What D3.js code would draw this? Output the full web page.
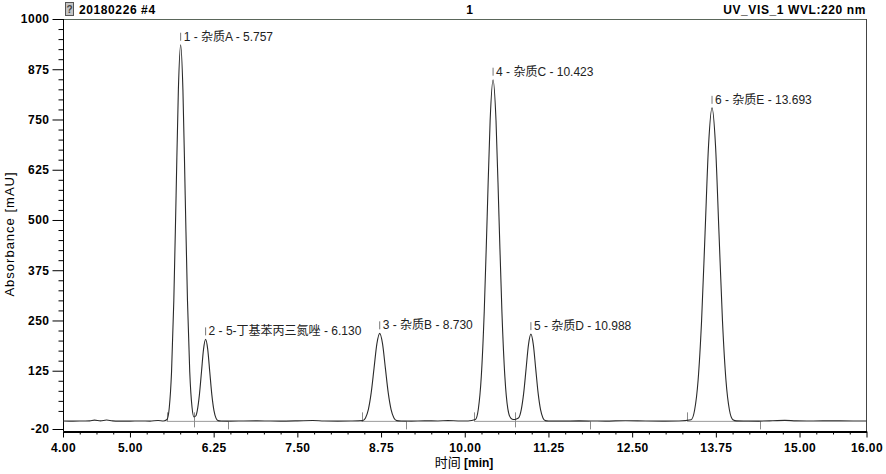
<!DOCTYPE html>
<html><head><meta charset="utf-8">
<script src="https://cdn.jsdelivr.net/npm/d3@7/dist/d3.min.js"></script>
<style>body{margin:0;background:#fff}svg{display:block}</style>
</head><body><svg id="c" width="886" height="474"></svg>
<script>
// ---- data ----
const traceTime = [4.00,4.15,4.30,4.40,4.47,4.56,4.65,4.74,4.85,5.00,5.15,5.30,5.42,5.50,
  5.553,5.587,5.621,5.655,5.689,5.723,5.757,5.791,5.825,5.859,5.893,5.927,5.955,5.985,
  6.006,6.037,6.068,6.099,6.130,6.161,6.192,6.223,6.254,6.285,6.316,6.36,
  6.50,6.70,6.90,7.10,7.30,7.50,7.73,7.90,8.10,8.30,
  8.475,8.5175,8.56,8.6025,8.645,8.6875,8.73,8.7725,8.815,8.8575,8.90,8.9425,8.985,9.05,
  9.20,9.40,9.60,9.75,9.90,10.05,
  10.159,10.203,10.247,10.291,10.335,10.379,10.423,10.467,10.511,10.555,10.599,10.643,10.687,10.73,
  10.772,10.808,10.844,10.88,10.916,10.952,10.988,11.024,11.06,11.096,11.132,11.168,11.204,11.25,
  11.45,11.70,11.90,12.10,12.40,12.70,13.00,13.20,
  13.381,13.433,13.485,13.537,13.589,13.641,13.693,13.745,13.797,13.849,13.901,13.953,14.005,14.06,
  14.20,14.40,14.60,14.78,14.95,15.20,15.50,15.80,16.00];
const traceAbs = [0,-0.5,0,0.3,2.0,0.2,2.3,0.3,-0.3,-0.5,0,-0.3,1.2,0,
  3.5,32.8,121.7,299.5,561.6,823.7,936,823.7,561.6,299.5,122,34,10,13,
  26.4,65,121.8,178.6,203,178.6,121.8,65,26.4,7.1,0.8,0,
  -0.3,0,0.2,-0.2,-0.3,0.2,1.2,0,-0.3,0,
  0.9,7.6,28.3,69.8,130.8,191.8,218,191.8,130.8,69.8,28.3,7.6,0.9,0,
  -0.3,0.2,0,0.8,0,-0.2,
  3.4,29.7,110.4,271.7,509.4,747.1,849,747.1,509.4,271.7,110.4,30.5,7,3.5,
  5,8.5,28.1,69.1,129.6,190,216,190,129.6,69.1,28.1,7.6,0.9,0,
  -0.2,0.2,0,-0.3,0.6,0,-0.3,0,
  3.1,27.3,101.3,249.3,467.4,685.5,779,685.5,467.4,249.3,101.3,27.3,3.1,0.3,
  0,-0.3,0.5,1.5,0.3,0,0.3,0,0];

const peakNumber = [1,2,3,4,5,6];
const peakName = ["杂质A","5-丁基苯丙三氮唑","杂质B","杂质C","杂质D","杂质E"];
const peakTime = [5.757,6.130,8.730,10.423,10.988,13.693];
const peakApex = [936,203,218,849,216,779];

const boundaryTime = [5.548,5.96,6.467,8.458,9.13,10.142,10.746,11.866,13.324,14.403];
const boundaryKind = ["start","drop","end","start","end","start","drop","end","start","end"];
const integStart = [5.548,8.458,10.142,13.324];
const integEnd = [6.467,9.13,11.866,14.403];
const integLevel = -1;

const yTickValues = [-20,125,250,375,500,625,750,875,1000];
const xTickValues = [4.00,5.00,6.25,7.50,8.75,10.00,11.25,12.50,13.75,15.00,16.00];
const titleLeft = "20180226 #4";
const titleMid = "1";
const titleRight = "UV_VIS_1 WVL:220 nm";
const yAxisTitle = "Absorbance [mAU]";
const xAxisTitleCJK = "时间";
const xAxisTitleUnit = " [min]";

// ---- drawing ----
const svg = d3.select("#c");
const L = 63, R = 866.5, T = 19, B = 429, AX = 431.5;
const x = d3.scaleLinear().domain([4,16]).range([L,R]);
const y = d3.scaleLinear().domain([-20,1000]).range([B,T]);
const latin = "'Liberation Sans', Arial, 'Noto Sans CJK SC', sans-serif";

// header
svg.append("rect").attr("x",65.5).attr("y",2.5).attr("width",8).attr("height",13)
  .attr("fill","#c4c4c4").attr("stroke","#555");
svg.append("text").attr("x",69.5).attr("y",13).attr("text-anchor","middle")
  .attr("font-family",latin).attr("font-size",10).attr("font-weight","bold").attr("fill","#444").text("?");
const hdr = (tx, xx, anchor) => svg.append("text").attr("x",xx).attr("y",14)
  .attr("text-anchor",anchor).attr("font-family",latin).attr("font-size",12)
  .attr("font-weight","bold").attr("letter-spacing","0.6px").attr("fill","#000").text(tx);
hdr(titleLeft, 79, "start");
hdr(titleMid, 470, "middle");
hdr(titleRight, 866, "end");

// frame
svg.append("line").attr("x1",L).attr("x2",R).attr("y1",T+0.5).attr("y2",T+0.5).attr("stroke","#5a665a");
svg.append("line").attr("x1",R).attr("x2",R).attr("y1",T).attr("y2",AX).attr("stroke","#444");

// y axis
const yMinor = d3.range(0,1001,25).filter(v => v % 125 !== 0);
const gyMin = svg.append("g").attr("transform",`translate(${L+0.5},0)`)
  .call(d3.axisLeft(y).tickValues(yMinor).tickSize(5).tickSizeOuter(0).tickFormat(""));
gyMin.select(".domain").remove();
const gy = svg.append("g").attr("transform",`translate(${L+0.5},0)`)
  .call(d3.axisLeft(y).tickValues(yTickValues).tickSize(11).tickSizeOuter(0).tickPadding(3).tickFormat(d => String(d)));
gy.select(".domain").attr("d",`M0,${T}V${AX}`);
gy.selectAll("text").attr("font-family",latin).attr("font-size",12).attr("font-weight","bold")
  .attr("letter-spacing","0.5px").attr("fill","#000");

// x axis
const xMinor = d3.range(4,16.001,0.25).filter(v => !xTickValues.some(t => Math.abs(t-v)<1e-6));
const gxMin = svg.append("g").attr("transform",`translate(0,${AX})`)
  .call(d3.axisBottom(x).tickValues(xMinor).tickSize(3).tickSizeOuter(0).tickFormat(""));
gxMin.select(".domain").remove();
const gx = svg.append("g").attr("transform",`translate(0,${AX})`)
  .call(d3.axisBottom(x).tickValues(xTickValues).tickSize(6).tickSizeOuter(0).tickPadding(6).tickFormat(d => d.toFixed(2)));
gx.select(".domain").attr("stroke-width",2);
gx.selectAll("text").attr("font-family",latin).attr("font-size",12).attr("font-weight","bold")
  .attr("letter-spacing","0.4px").attr("fill","#000");

// axis titles
svg.append("text").attr("transform","translate(14,234) rotate(-90)").attr("text-anchor","middle")
  .attr("font-family",latin).attr("font-size",13).attr("letter-spacing","1px").attr("fill","#000").text(yAxisTitle);
const xt = svg.append("text").attr("x",464).attr("y",467).attr("text-anchor","middle").attr("fill","#000");
xt.append("tspan").attr("font-family","'Noto Sans CJK SC', sans-serif").attr("font-size",13).text(xAxisTitleCJK);
xt.append("tspan").attr("font-family",latin).attr("font-size",12).attr("font-weight","bold").text(xAxisTitleUnit);

// integration baselines and markers
svg.append("g").selectAll("line").data(integStart).join("line")
  .attr("x1",(d)=>x(d)).attr("x2",(d,i)=>x(integEnd[i]))
  .attr("y1",y(integLevel)).attr("y2",y(integLevel)).attr("stroke","#9a9a9a");
const mk = {start:[-9,0], drop:[-9,6], end:[0,8]};
svg.append("g").selectAll("line").data(boundaryTime).join("line")
  .attr("x1",d=>Math.round(x(d))+0.5).attr("x2",d=>Math.round(x(d))+0.5)
  .attr("y1",(d,i)=>y(integLevel)+mk[boundaryKind[i]][0])
  .attr("y2",(d,i)=>y(integLevel)+mk[boundaryKind[i]][1])
  .attr("stroke","#8a8a8a");

// signal trace
const pts = traceTime.map((t,i)=>[t,traceAbs[i]]);
svg.append("path").datum(pts)
  .attr("d", d3.line().x(d=>x(d[0])).y(d=>y(d[1])).curve(d3.curveMonotoneX))
  .attr("fill","none").attr("stroke","#2a2a2a").attr("stroke-width",1.1);

// peak labels
const gl = svg.append("g");
peakNumber.forEach((n,i)=>{
  const px = x(peakTime[i]), py = y(peakApex[i]);
  gl.append("line").attr("x1",px).attr("x2",px).attr("y1",py-12).attr("y2",py-4).attr("stroke","#777");
  gl.append("text").attr("x",px+3).attr("y",py-4).attr("font-family",latin).attr("font-size",12)
    .attr("fill","#222").text(`${n} - ${peakName[i]} - ${peakTime[i].toFixed(3)}`);
});
</script></body></html>
